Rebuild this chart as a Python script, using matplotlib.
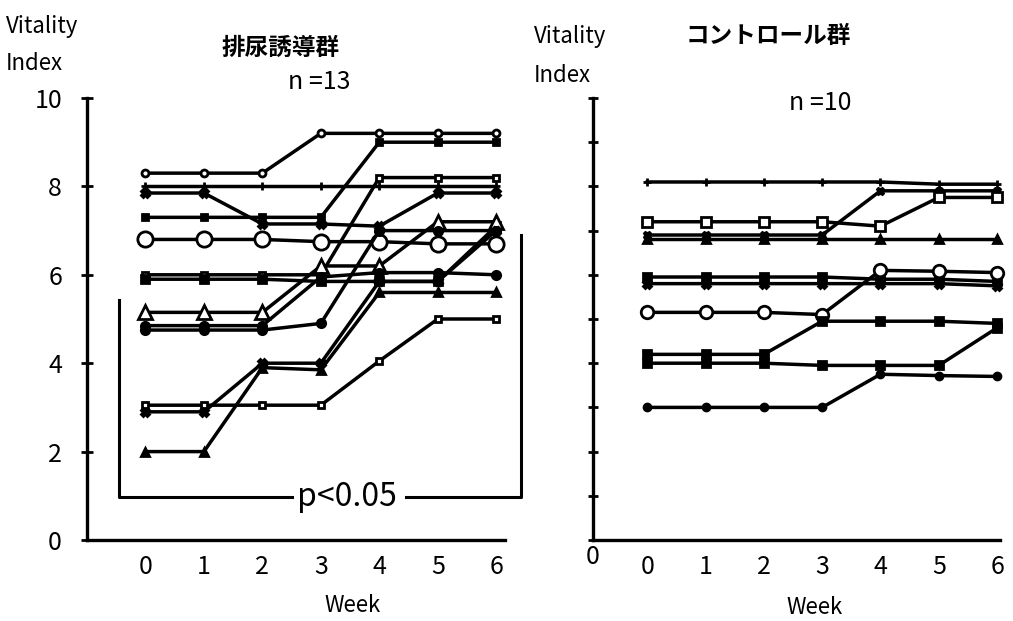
import matplotlib
matplotlib.use("Agg")
import matplotlib.pyplot as plt

plt.rcParams['font.family'] = ['Noto Sans CJK JP', 'DejaVu Sans']

W, H = 1013, 621

weeks = [0, 1, 2, 3, 4, 5, 6]

# 排尿誘導群 (n=13): Vitality Index per week
ind_01 = [8.3, 8.3, 8.3, 9.2, 9.2, 9.2, 9.2]
ind_02 = [8.0, 8.0, 8.0, 8.0, 8.0, 8.0, 8.0]
ind_03 = [7.85, 7.85, 7.15, 7.15, 7.1, 7.85, 7.85]
ind_04 = [7.3, 7.3, 7.3, 7.3, 9.0, 9.0, 9.0]
ind_05 = [6.8, 6.8, 6.8, 6.75, 6.75, 6.7, 6.7]
ind_06 = [6.0, 6.0, 6.0, 6.0, 8.2, 8.2, 8.2]
ind_07 = [5.9, 5.9, 5.9, 5.85, 5.85, 5.85, 7.1]
ind_08 = [5.15, 5.15, 5.15, 6.2, 6.2, 7.2, 7.2]
ind_09 = [4.85, 4.85, 4.85, 5.95, 6.05, 6.05, 6.0]
ind_10 = [4.75, 4.75, 4.75, 4.9, 7.0, 7.0, 7.0]
ind_11 = [3.05, 3.05, 3.05, 3.05, 4.05, 5.0, 5.0]
ind_12 = [2.9, 2.9, 4.0, 4.0, 5.85, 5.85, 7.0]
ind_13 = [2.0, 2.0, 3.9, 3.85, 5.6, 5.6, 5.6]

# コントロール群 (n=10)
ctl_01 = [8.1, 8.1, 8.1, 8.1, 8.1, 8.05, 8.05]
ctl_02 = [6.9, 6.9, 6.9, 6.9, 7.9, 7.9, 7.9]
ctl_03 = [7.2, 7.2, 7.2, 7.2, 7.1, 7.75, 7.75]
ctl_04 = [6.8, 6.8, 6.8, 6.8, 6.8, 6.8, 6.8]
ctl_05 = [5.95, 5.95, 5.95, 5.95, 5.9, 5.9, 5.85]
ctl_06 = [5.8, 5.8, 5.8, 5.8, 5.8, 5.8, 5.75]
ctl_07 = [5.15, 5.15, 5.15, 5.1, 6.1, 6.08, 6.05]
ctl_08 = [4.2, 4.2, 4.2, 4.95, 4.95, 4.95, 4.9]
ctl_09 = [4.0, 4.0, 4.0, 3.95, 3.95, 3.95, 4.8]
ctl_10 = [3.0, 3.0, 3.0, 3.0, 3.75, 3.72, 3.7]

induced = [ind_01, ind_02, ind_03, ind_04, ind_05, ind_06, ind_07,
           ind_08, ind_09, ind_10, ind_11, ind_12, ind_13]
control = [ctl_01, ctl_02, ctl_03, ctl_04, ctl_05, ctl_06, ctl_07,
           ctl_08, ctl_09, ctl_10]

# marker, size, face colour
induced_styles = [
    ('o', 5, 'white'), ('+', 6, 'black'), ('X', 6, 'black'), ('s', 5, 'black'),
    ('o', 11, 'white'), ('s', 5, 'white'), ('s', 6, 'black'), ('^', 10, 'white'),
    ('o', 6, 'black'), ('o', 6, 'black'), ('s', 5, 'white'), ('X', 6, 'black'),
    ('^', 6, 'black'),
]
control_styles = [
    ('+', 6, 'black'), ('X', 5, 'black'), ('s', 7, 'white'), ('^', 6, 'black'),
    ('s', 6, 'black'), ('X', 6, 'black'), ('o', 9, 'white'), ('s', 6, 'black'),
    ('s', 6, 'black'), ('o', 5, 'black'),
]

fig = plt.figure(figsize=(W / 100, H / 100), dpi=100)
fig.patch.set_facecolor('white')

ax1 = fig.add_axes([87 / W, 1 - 540 / H, (505 - 87) / W, (540 - 98) / H])
ax2 = fig.add_axes([593 / W, 1 - 540 / H, (1000 - 593) / W, (540 - 98) / H])


def draw_group(ax, series, styles):
    for vals, (m, ms, fc) in zip(series, styles):
        ax.plot(weeks, vals, color='black', lw=2.5, marker=m, markersize=ms,
                markerfacecolor=fc, markeredgecolor='black', markeredgewidth=2.0,
                clip_on=False, zorder=3)


draw_group(ax1, induced, induced_styles)
draw_group(ax2, control, control_styles)

for ax in (ax1, ax2):
    ax.set_ylim(0, 10)
    for s in ('top', 'right'):
        ax.spines[s].set_visible(False)
    for s in ('left', 'bottom'):
        ax.spines[s].set_linewidth(2.4)
    ax.set_xticks(weeks)
    ax.set_xticklabels([str(w) for w in weeks], fontsize=18)
    ax.tick_params(axis='x', length=0, pad=10)

ax1.set_xlim(-1.0, 6.15)
ax2.set_xlim(-0.93, 6.05)

ax1.set_yticks([0, 2, 4, 6, 8, 10])
ax1.set_yticklabels(['0', '2', '4', '6', '8', '10'], fontsize=18)
ax1.tick_params(axis='y', direction='inout', length=8, width=2, pad=14)

ax2.set_yticks(range(0, 11))
ax2.set_yticklabels([])
ax2.tick_params(axis='y', direction='inout', length=7, width=2)
ax2.text(0, -0.01, '0', transform=ax2.transAxes, ha='center', va='top', fontsize=18)

# significance bracket
bk = dict(color='black', lw=2.2, clip_on=False)
ax1.plot([-0.45, -0.45, 2.5], [5.43, 0.97, 0.97], **bk)
ax1.plot([4.46, 6.42, 6.42], [0.97, 0.97, 6.9], **bk)
ax1.text(3.45, 0.97, 'p<0.05', ha='center', va='center', fontsize=23)

# axis captions and titles
def ftext(x, y, s, **kw):
    fig.text(x / W, 1 - y / H, s, **kw)

ftext(6, 27, 'Vitality', fontsize=16, va='center')
ftext(6, 64, 'Index', fontsize=16, va='center')
ftext(534, 36, 'Vitality', fontsize=16, va='center')
ftext(534, 75, 'Index', fontsize=16, va='center')

ftext(281, 48, '排尿誘導群', fontsize=17, weight='bold', ha='center', va='center')
ftext(319, 82, 'n =13', fontsize=18, ha='center', va='center')
ftext(768, 36, 'コントロール群', fontsize=17, weight='bold', ha='center', va='center')
ftext(820, 103, 'n =10', fontsize=18, ha='center', va='center')

ftext(353, 605, 'Week', fontsize=16, ha='center', va='center')
ftext(815, 608, 'Week', fontsize=16, ha='center', va='center')

fig.savefig('out.png', dpi=100, facecolor='white')
